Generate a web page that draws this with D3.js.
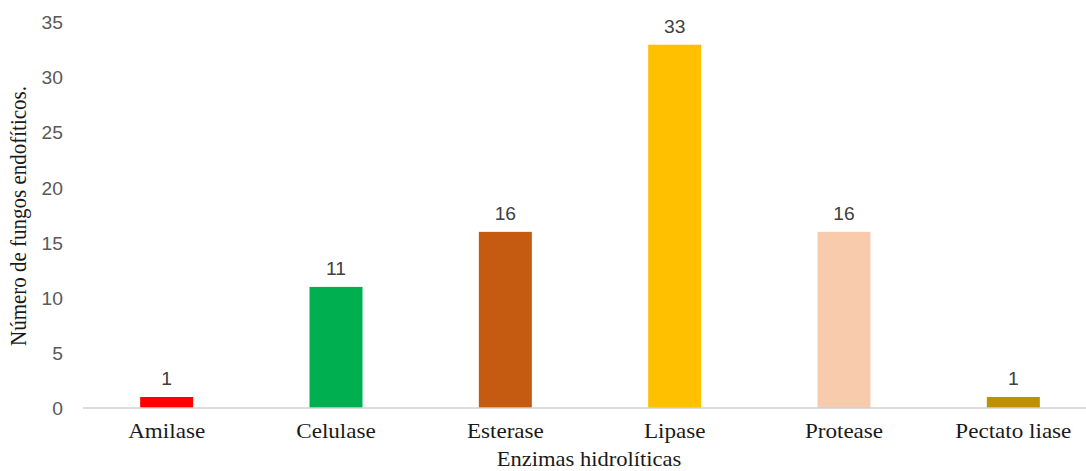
<!DOCTYPE html>
<html>
<head>
<meta charset="utf-8">
<script src="https://cdn.jsdelivr.net/npm/d3@7"></script>
<style>
  html, body { margin: 0; padding: 0; background: #fff; }
  svg { display: block; }
</style>
</head>
<body>
<svg id="chart" width="1086" height="471"></svg>
<script>
// Enzyme categories and counts of endophytic fungi
const categories = ["Amilase", "Celulase", "Esterase", "Lipase", "Protease", "Pectato liase"];
const counts = [1, 11, 16, 33, 16, 1];
const barColors = ["#FF0000", "#00B050", "#C55A11", "#FFC000", "#F8CBAD", "#BF9000"];
const yTicks = [0, 5, 10, 15, 20, 25, 30, 35];
const xTitle = "Enzimas hidrolíticas";
const yTitle = "Número de fungos endofíticos.";

const svg = d3.select("#chart");
const stretch = 1.1; // glyphs are drawn slightly wide

const x = d3.scaleBand().domain(categories).range([82, 1098]).paddingInner(0.687).paddingOuter(0.3435);
const y = d3.scaleLinear().domain([0, 35]).range([408, 22.7]);

// y tick labels (no axis line, no tick marks)
const yAxis = d3.axisLeft(y).tickValues(yTicks).tickSize(0).tickPadding(0);
const gy = svg.append("g").attr("transform", "translate(63,0)").call(yAxis);
gy.select(".domain").remove();
gy.selectAll(".tick text")
  .attr("x", 0).attr("dy", null)
  .attr("transform", `scale(${stretch},1)`)
  .attr("dominant-baseline", "central")
  .style("font-family", "'Liberation Sans', Arial, sans-serif")
  .style("font-size", "17.5px")
  .attr("fill", "#595959");

// bars
svg.append("g").selectAll("rect")
  .data(categories)
  .join("rect")
  .attr("x", d => x(d))
  .attr("width", x.bandwidth())
  .attr("y", (d, i) => y(counts[i]))
  .attr("height", (d, i) => y(0) - y(counts[i]))
  .attr("fill", (d, i) => barColors[i]);

// baseline
svg.append("line")
  .attr("x1", 83).attr("x2", 1086)
  .attr("y1", y(0)).attr("y2", y(0))
  .attr("stroke", "#d0d0d0").attr("stroke-width", 1.5);

// value labels
svg.append("g").selectAll("text")
  .data(categories)
  .join("text")
  .attr("transform", (d, i) => `translate(${x(d) + x.bandwidth() / 2},${y(counts[i]) - 11.5}) scale(${stretch},1)`)
  .attr("text-anchor", "middle")
  .style("font-family", "'Liberation Sans', Arial, sans-serif")
  .style("font-size", "17.5px")
  .attr("fill", "#404040")
  .text((d, i) => counts[i]);

// category labels
const xAxis = d3.axisBottom(x).tickSize(0).tickPadding(0);
const gx = svg.append("g").call(xAxis);
gx.select(".domain").remove();
gx.selectAll(".tick").attr("transform", d => `translate(${x(d) + x.bandwidth() / 2},0)`);
gx.selectAll(".tick text")
  .attr("y", null).attr("dy", null)
  .attr("transform", `translate(0,438) scale(${stretch},1)`)
  .attr("text-anchor", "middle")
  .style("font-family", "'Liberation Serif', 'Times New Roman', serif")
  .style("font-size", "21px")
  .attr("fill", "#1a1a1a");

// axis titles
svg.append("text")
  .attr("transform", `translate(589,466) scale(${stretch},1)`)
  .attr("text-anchor", "middle")
  .style("font-family", "'Liberation Serif', 'Times New Roman', serif")
  .style("font-size", "20.5px")
  .attr("fill", "#1a1a1a")
  .text(xTitle);

svg.append("text")
  .attr("transform", `translate(26,216) scale(${stretch},1) rotate(-90)`)
  .attr("text-anchor", "middle")
  .style("font-family", "'Liberation Serif', 'Times New Roman', serif")
  .style("font-size", "21px")
  .attr("fill", "#1a1a1a")
  .text(yTitle);
</script>
</body>
</html>
